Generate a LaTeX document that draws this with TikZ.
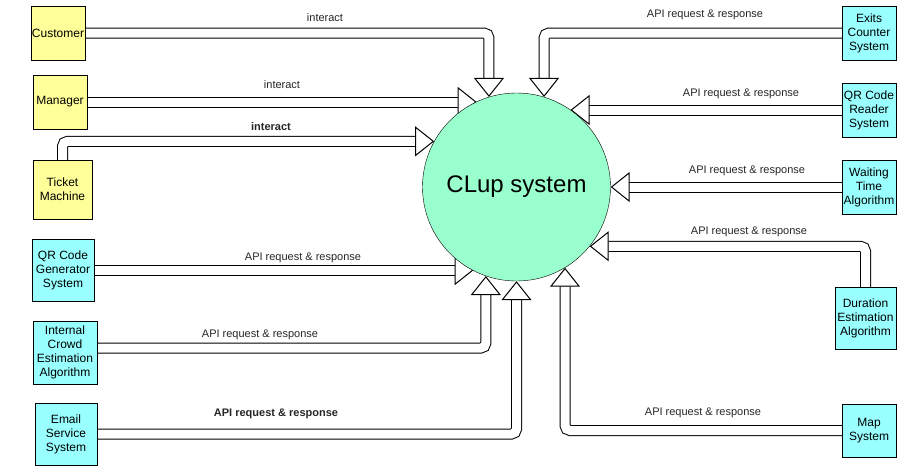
\documentclass[tikz,border=0pt]{standalone}
\usepackage{fontspec}
\setmainfont{Liberation Sans}
\usetikzlibrary{arrows.meta, backgrounds}
\definecolor{actorfill}{HTML}{FFFF99}
\definecolor{extfill}{HTML}{99FFFF}
\definecolor{corefill}{HTML}{99FFCC}

\begin{document}
\begin{tikzpicture}[
        x=1pt, y=-1pt,
        actor/.style = {draw, fill=actorfill, minimum width=54pt, minimum height=54pt, inner sep=0pt, align=center, font=\fontsize{12}{14}\selectfont},
        ext/.style   = {actor, fill=extfill},
        core/.style  = {draw, circle, fill=corefill, minimum size=188pt, inner sep=0pt, font=\fontsize{24}{28}\selectfont},
        lbl/.style   = {font=\fontsize{11}{13}\selectfont, text=black!85},
        flow/.style  = {draw, line width=1pt, double=white, double distance=9pt, rounded corners=5pt,
                        -{Triangle[length=19pt, width=30pt, fill=white, line width=1pt]}},
    ]
        \useasboundingbox (0,0) rectangle (906,472);

        %---- system ----
        \node[core] (clup) at (516.5,187) {CLup system};

        %---- left side ----
        \node[actor] (cust) at (58,33) {Customer};
        \node[actor] (mgr) at (60,102) {Manager};
        \node[actor, minimum width=59pt, minimum height=59pt] (tm) at (62.5,189.5) {Ticket\\Machine};
        \node[ext, minimum width=62pt, minimum height=62pt] (qrg) at (63,270) {QR Code\\Generator\\System};
        \node[ext, minimum width=64pt, minimum height=63pt] (ice) at (65,352.5) {Internal\\Crowd\\Estimation\\Algorithm};
        \node[ext, minimum width=62pt, minimum height=62pt] (ess) at (66,434) {Email\\Service\\System};

        %---- right side ----
        \node[ext] (ecs) at (869,33) {Exits\\Counter\\System};
        \node[ext] (qrr) at (869,110) {QR Code\\Reader\\System};
        \node[ext] (wta) at (869,187) {Waiting\\Time\\Algorithm};
        \node[ext, minimum width=61pt, minimum height=62pt] (dea) at (865.5,318) {Duration\\Estimation\\Algorithm};
        \node[ext, minimum height=53pt] (map) at (869,430.5) {Map\\System};

        %---- flows ----
        \begin{scope}[on background layer]
            \draw[flow] (cust.east) -| (clup.107);
            \draw[flow] (mgr.east) -- (mgr.east -| clup.115.2);
            \draw[flow] (tm.north) |- (clup.151.4);
            \draw[flow] (qrg.east) -- (qrg.east -| clup.243.4);
            \draw[flow] ([yshift=4.5pt]ice.east) -| (clup.251);
            \draw[flow] (ess.east) -| (clup.south);
            \draw[flow] (ecs.west) -| (clup.73);
            \draw[flow] (qrr.west) -- (qrr.west -| clup.55);
            \draw[flow] (wta.west) -- (clup.east);
            \draw[flow] (dea.north) |- (clup.321.1);
            \draw[flow] (map.west) -| (clup.301.8);
        \end{scope}

        %---- labels ----
        \node[lbl] (lcust) at (325,18) {interact};
        \node[lbl] (lmgr) at (282,85) {interact};
        \node[lbl, font=\fontsize{11}{13}\selectfont\bfseries] (ltm) at (271,127) {interact};
        \node[lbl] (lqrg) at (303,258) {API request \& response};
        \node[lbl] (lice) at (260,335) {API request \& response};
        \node[lbl, font=\fontsize{11}{13}\selectfont\bfseries] (less) at (276,414) {API request \& response};
        \node[lbl] (lecs) at (705,15) {API request \& response};
        \node[lbl] (lqrr) at (741,94) {API request \& response};
        \node[lbl] (lwta) at (747,171) {API request \& response};
        \node[lbl] (ldea) at (749,232) {API request \& response};
        \node[lbl] (lmap) at (703,413) {API request \& response};
    \end{tikzpicture}
\end{document}
